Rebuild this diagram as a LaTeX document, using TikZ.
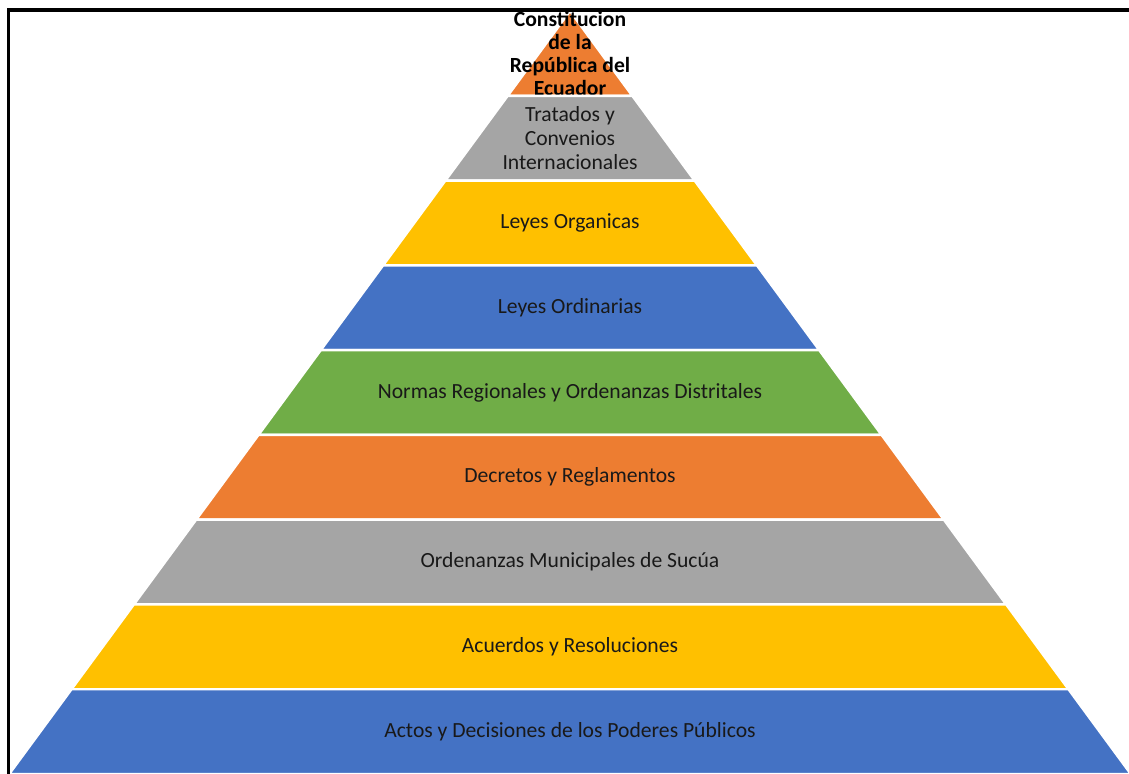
\documentclass[tikz,border=0pt]{standalone}
\usepackage{fontspec}
\setmainfont{Carlito}
\definecolor{pyrorange}{HTML}{ED7D31}
\definecolor{pyrgray}{HTML}{A5A5A5}
\definecolor{pyryellow}{HTML}{FFC000}
\definecolor{pyrblue}{HTML}{4472C4}
\definecolor{pyrgreen}{HTML}{70AD47}
\tikzset{
    tiertext/.style={align=center, text=black!90, font=\fontsize{12.3}{13.8}\selectfont},
    toptext/.style={align=center, text=black, font=\fontsize{12.3}{13.2}\selectfont\bfseries}
}
\begin{document}
\begin{tikzpicture}
    \def \ax {11.4}   % apex x
    \def \ay {-0.22}  % apex y
    \def \h {1.6956}  % height of one tier
    \def \s {0.735}   % half width per unit of depth

    \useasboundingbox (0,0) rectangle (22.58,-15.48);

    % Tiers, from the top down
    \foreach \col/\sty/\txt [count=\i from 0] in {
        pyrorange/toptext/{Constitucion\\de la\\República del\\Ecuador},
        pyrgray/tiertext/{Tratados y\\Convenios\\Internacionales},
        pyryellow/tiertext/{Leyes Organicas},
        pyrblue/tiertext/{Leyes Ordinarias},
        pyrgreen/tiertext/{Normas Regionales y Ordenanzas Distritales},
        pyrorange/tiertext/{Decretos y Reglamentos},
        pyrgray/tiertext/{Ordenanzas Municipales de Sucúa},
        pyryellow/tiertext/{Acuerdos y Resoluciones},
        pyrblue/tiertext/{Actos y Decisiones de los Poderes Públicos}} {
        \pgfmathsetmacro\yt{\ay-\i*\h}
        \pgfmathsetmacro\yb{\ay-(\i+1)*\h}
        \pgfmathsetmacro\wt{\s*\i*\h}
        \pgfmathsetmacro\wb{\s*(\i+1)*\h}
        \filldraw[fill=\col, draw=white, line width=1.4pt]
            (\ax-\wt,\yt) -- (\ax+\wt,\yt) -- (\ax+\wb,\yb) -- (\ax-\wb,\yb) -- cycle;
        \node[\sty] (tier\i) at (\ax,{(\yt+\yb)/2}) {\txt};
    }

    % Frame
    \draw[line width=2.2pt] (0.17,-15.48) -- (0.17,-0.2) -- (22.58,-0.2);
\end{tikzpicture}
\end{document}
